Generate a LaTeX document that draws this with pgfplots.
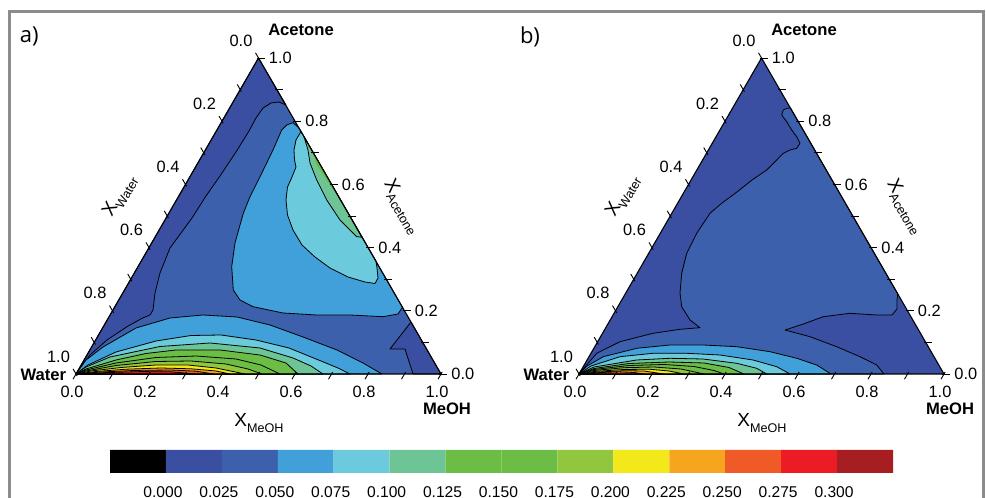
\documentclass[border=0pt]{standalone}
\usepackage{pgfplots}
\pgfplotsset{compat=1.18}
\usepackage{fontspec}
\setmainfont{Liberation Sans}
\newfontfamily\osans{Open Sans}
\definecolor{c0}{HTML}{000000}
\definecolor{c1}{HTML}{3A4FA1}
\definecolor{c2}{HTML}{3D60AD}
\definecolor{c3}{HTML}{41A0D9}
\definecolor{c4}{HTML}{6BCBDC}
\definecolor{c5}{HTML}{6DC596}
\definecolor{c6}{HTML}{6BBD45}
\definecolor{c7}{HTML}{91C63E}
\definecolor{c8}{HTML}{F2E81A}
\definecolor{c9}{HTML}{F6A51F}
\definecolor{c10}{HTML}{EF5A27}
\definecolor{c11}{HTML}{EC1C24}
\definecolor{c12}{HTML}{A61D22}
\definecolor{framegray}{HTML}{8C8C8C}
\tikzset{
  tl/.style={font=\fontsize{8.2}{9}\selectfont, inner sep=1pt},
  vl/.style={font=\fontsize{8.3}{9}\selectfont\bfseries, inner sep=0pt},
  tk/.style={line width=0.45pt, black},
}
\pgfplotsset{
  tern/.style={anchor=south west, x=0.5pt, y=0.5pt, xmin=0, xmax=365, ymin=0, ymax=316, hide axis, clip=false},
  reg/.style={draw=black, line width=0.4pt, line join=round},
}
\newcommand\ternarydeco{%
  \draw[line width=0.55pt, black, line join=miter] (axis cs:0,0) -- (axis cs:365,0) -- (axis cs:182.5,316) -- cycle;
  \pgfplotsinvokeforeach{0,...,10}{%
    \draw[tk] (axis cs:{36.5*##1+1.2},2.1) -- (axis cs:{36.5*##1-3},-5.2);
    \draw[tk] (axis cs:{365-18.25*##1-2},{31.6*##1}) -- (axis cs:{365-18.25*##1+6},{31.6*##1});
    \draw[tk] (axis cs:{182.5-18.25*##1+1.2},{316-31.6*##1-2.1}) -- (axis cs:{182.5-18.25*##1-3},{316-31.6*##1+5.2});
  }
  % bottom labels (x MeOH)
  \node[tl] at (axis cs:-4,-18) {0.0};
  \node[tl] at (axis cs:69,-18) {0.2};
  \node[tl] at (axis cs:142,-18) {0.4};
  \node[tl] at (axis cs:215,-18) {0.6};
  \node[tl] at (axis cs:288,-18) {0.8};
  \node[tl] at (axis cs:361,-18) {1.0};
  % right labels (x Acetone)
  \node[tl, anchor=west] at (axis cs:373,0) {0.0};
  \node[tl, anchor=west] at (axis cs:336.5,63.2) {0.2};
  \node[tl, anchor=west] at (axis cs:300,126.4) {0.4};
  \node[tl, anchor=west] at (axis cs:263.5,189.6) {0.6};
  \node[tl, anchor=west] at (axis cs:227,252.8) {0.8};
  \node[tl, anchor=west] at (axis cs:190.5,316) {1.0};
  % left labels (x Water)
  \node[tl] at (axis cs:165,333.5) {0.0};
  \node[tl] at (axis cs:128.5,270.3) {0.2};
  \node[tl] at (axis cs:92,207.1) {0.4};
  \node[tl] at (axis cs:55.5,143.9) {0.6};
  \node[tl] at (axis cs:19,80.7) {0.8};
  \node[tl] at (axis cs:-17.5,17.5) {1.0};
  % vertex names
  \node[vl] at (axis cs:225,344.3) {Acetone};
  \node[vl, anchor=east] at (axis cs:-9.5,-1) {Water};
  \node[vl] at (axis cs:371,-34.3) {MeOH};
  % axis titles
  \node[anchor=base, inner sep=0pt] at (axis cs:183,-53) {\fontsize{9.5}{10}\selectfont X\raisebox{-2.6pt}{\fontsize{6.3}{7}\selectfont MeOH}};
  \node[rotate=60, inner sep=0pt] at (axis cs:44,178) {\fontsize{9.5}{10}\selectfont X\raisebox{-2.6pt}{\fontsize{6.3}{7}\selectfont Water}};
  \node[rotate=-60, inner sep=0pt] at (axis cs:326,167) {\fontsize{9.5}{10}\selectfont X\raisebox{-2.6pt}{\fontsize{6.3}{7}\selectfont Acetone}};
}
\begin{document}
\begin{tikzpicture}[x=0.5pt,y=0.5pt]
\useasboundingbox (0,0) rectangle (986,498);
\draw[framegray, line width=1.7pt] (9.5,-20) -- (9.5,486.5) -- (983.5,486.5) -- (983.5,-20);
\node[font=\osans\fontsize{11}{12}\selectfont, inner sep=0pt] at (29.3,461.3) {a)};
\node[font=\osans\fontsize{11}{12}\selectfont, inner sep=0pt] at (530,461.3) {b)};

% ---------------- panel a ----------------
\begin{axis}[tern, at={(38pt,62pt)}]
\addplot[fill=c2, draw=none] coordinates {(0,0)(365,0)(182.5,316)(0,0)};
% dark blue region along water-acetone side
\addplot[reg, fill=c1] coordinates {(0,0)(182.5,316)(210,269)(203,272)(195,271)(187,266)(180,256)(173,243)(160,222)(144,198)(130,178)(116,156)(94,126)(84,101)(79,81)(77,64)(74,59)(66,55.7)(51,47.3)(31,34)(14,19)(5,7)(0,0)};
% dark blue notch near MeOH
\addplot[reg, fill=c1] coordinates {(335,52)(314,25)(329,25)(337,0)(365,0)(335,52)};
% upper right lobe
\addplot[reg, fill=c3] coordinates {(223,246)(217,251.3)(210.7,249)(205.7,244)(197,224)(185.7,200.7)(174,177.3)(167.3,160.7)(159,131)(155.7,107.3)(157.3,84)(164,74)(177,67.3)(207,61)(240.7,59)(274,59)(307,57.3)(322,60)(326,66)(326.9,66)(223,246)};
\addplot[reg, fill=c4] coordinates {(225,242.5)(220,234)(218,224)(218.5,214)(220,207)(216,197)(211.5,187)(210,174)(211.5,159)(217,144)(226,129)(239,117)(254,106)(272,97)(289,92)(299,90.5)(302,96)(301,106)(300,113)(225,242.5)};
\addplot[reg, fill=c5] coordinates {(228,237.3)(232,224)(234,211)(240.7,194)(250.7,174)(264,154)(274,144)(280.7,137.3)(286,136.8)(228,237.3)};
\addplot[draw=none, fill=c6] coordinates {(236.8,222)(240,210)(249,196)(256,186)(260.5,181)(236.8,222)};
% bottom bands
\addplot[reg, fill=c3] coordinates {(0,0)(10,14)(27,27)(60,46)(94,56)(127,59)(161,57)(194,49)(227,37)(261,24)(287,11)(306,0)(0,0)};
\addplot[reg, fill=c4] coordinates {(0,0)(12,9)(40,22)(80,33)(115,38.5)(145,39)(180,34)(213,26)(245,13)(262,6)(274,0)(0,0)};
\addplot[reg, fill=c5] coordinates {(0,0)(10,7)(34,17)(84,27.5)(134,31)(184,26)(217,16)(235,8)(247,0)(0,0)};
\addplot[reg, fill=c6] coordinates {(0,0)(10,5)(40,14)(70,20.5)(100,24)(144,24)(184,19)(210,11)(222,0)(0,0)};
\addplot[reg, fill=c6] coordinates {(0,0)(10,4)(40,11)(80,16.5)(120,18)(160,15)(185,9)(204,0)(0,0)};
\addplot[reg, fill=c7] coordinates {(0,0)(10,3)(40,8.5)(80,12.5)(115,13)(150,10)(172,5)(186,0)(0,0)};
\addplot[reg, fill=c8] coordinates {(0,0)(15,3)(45,6.5)(80,9)(112,9)(140,6)(169,0)(0,0)};
\addplot[reg, fill=c9] coordinates {(0,0)(20,2.5)(50,4.8)(85,6)(115,5.2)(140,3)(154,0)(0,0)};
\addplot[reg, fill=c10] coordinates {(0,0)(25,2)(60,3.6)(95,4)(120,2.8)(138,0)(0,0)};
\addplot[reg, fill=c11] coordinates {(0,0)(30,1.4)(65,2.4)(95,2.2)(120,0)(0,0)};
\ternarydeco
\end{axis}

% ---------------- panel b ----------------
\begin{axis}[tern, at={(289.5pt,62pt)}]
\addplot[fill=c1, draw=none] coordinates {(0,0)(365,0)(182.5,316)(0,0)};
\addplot[reg, fill=c2] coordinates {(0,0)(5,6)(17.7,20.7)(41,32.3)(74,40.7)(101,44.7)(121,46.3)(111,54)(102.7,67.3)(101,81)(102.7,100.7)(107.7,120.7)(117.7,140.7)(131,160.7)(143,171)(158,182)(173,194)(187.7,204)(197.7,214)(204.3,220.7)(211,224)(217.7,225.7)(221,230.7)(217.7,237.3)(212.7,244)(207.7,252.3)(202.7,259)(204.3,264)(207.7,265.7)(211.5,266)(318.8,80)(318,74)(318,65)(313,59)(297.7,59)(271,60.7)(244.3,57.3)(224.3,50)(206,44)(231,37.3)(257.7,27.3)(281,17.3)(297.7,9)(305,0)(0,0)};
\addplot[reg, fill=c3] coordinates {(0,0)(8,8)(24.3,17.3)(57.7,25.7)(91,29)(124.3,29)(157.7,27.3)(191,22.3)(217.7,15.7)(237.7,9)(252,0)(0,0)};
\addplot[reg, fill=c4] coordinates {(0,0)(12,8)(41,17.3)(74,20.7)(107.7,20.7)(141,19)(174,14)(197.7,7.3)(211,0)(0,0)};
\addplot[reg, fill=c5] coordinates {(0,0)(15,7)(57.7,14)(91,15.7)(124,15)(157.7,10.7)(177.7,5.7)(187.7,0)(0,0)};
\addplot[reg, fill=c6] coordinates {(0,0)(15,5.5)(50,10.5)(90,12)(125,11)(150,6.5)(165,0)(0,0)};
\addplot[reg, fill=c6] coordinates {(0,0)(15,4.5)(50,8.5)(85,9.5)(115,7.5)(135,3.5)(145,0)(0,0)};
\addplot[reg, fill=c7] coordinates {(0,0)(15,3.5)(45,6.3)(75,7)(102,5)(125,0)(0,0)};
\addplot[reg, fill=c8] coordinates {(0,0)(15,2.5)(45,4.5)(70,4.8)(90,3)(105,0)(0,0)};
\addplot[reg, fill=c9] coordinates {(0,0)(20,2)(45,3.3)(65,3)(85,0)(0,0)};
\addplot[reg, fill=c10] coordinates {(0,0)(20,1.4)(40,2.2)(55,1.5)(65,0)(0,0)};
\ternarydeco
\end{axis}

% ---------------- colour bar ----------------
\begin{axis}[at={(55pt,12.5pt)}, anchor=south west, scale only axis, width=391.5pt, height=11.5pt,
  xmin=0, xmax=14, ymin=0, ymax=1, axis line style={draw=none}, ytick=\empty,
  xtick={1,...,13}, major tick length=0pt,
  xticklabels={0.000,0.025,0.050,0.075,0.100,0.125,0.150,0.175,0.200,0.225,0.250,0.275,0.300},
  xticklabel style={font=\fontsize{7.8}{8}\selectfont, yshift=-3.2pt, xshift=-1.5pt}]
\addplot[fill=c0, draw=none] coordinates {(0,0)(1,0)(1,1)(0,1)(0,0)};
\addplot[fill=c1, draw=none] coordinates {(1,0)(2,0)(2,1)(1,1)(1,0)};
\addplot[fill=c2, draw=none] coordinates {(2,0)(3,0)(3,1)(2,1)(2,0)};
\addplot[fill=c3, draw=none] coordinates {(3,0)(4,0)(4,1)(3,1)(3,0)};
\addplot[fill=c4, draw=none] coordinates {(4,0)(5,0)(5,1)(4,1)(4,0)};
\addplot[fill=c5, draw=none] coordinates {(5,0)(6,0)(6,1)(5,1)(5,0)};
\addplot[fill=c6, draw=none] coordinates {(6,0)(7,0)(7,1)(6,1)(6,0)};
\addplot[fill=c6, draw=none] coordinates {(7,0)(8,0)(8,1)(7,1)(7,0)};
\addplot[fill=c7, draw=none] coordinates {(8,0)(9,0)(9,1)(8,1)(8,0)};
\addplot[fill=c8, draw=none] coordinates {(9,0)(10,0)(10,1)(9,1)(9,0)};
\addplot[fill=c9, draw=none] coordinates {(10,0)(11,0)(11,1)(10,1)(10,0)};
\addplot[fill=c10, draw=none] coordinates {(11,0)(12,0)(12,1)(11,1)(11,0)};
\addplot[fill=c11, draw=none] coordinates {(12,0)(13,0)(13,1)(12,1)(12,0)};
\addplot[fill=c12, draw=none] coordinates {(13,0)(14,0)(14,1)(13,1)(13,0)};
\end{axis}
\end{tikzpicture}
\end{document}
